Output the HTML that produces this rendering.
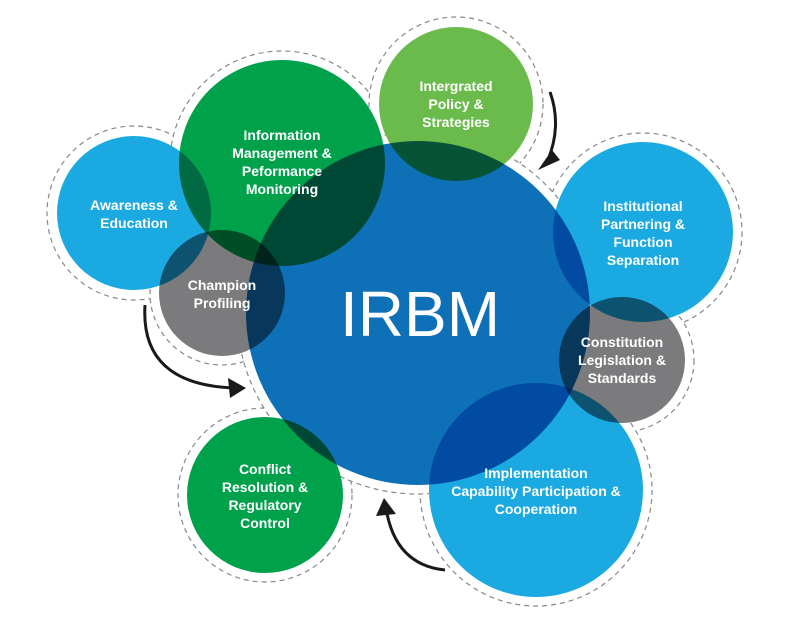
<!DOCTYPE html>
<html><head><meta charset="utf-8"><style>
html,body{margin:0;padding:0;background:#fff;}
svg{display:block;}
.t{font-family:"Liberation Sans",sans-serif;font-weight:bold;fill:#fff;font-size:14px;text-anchor:middle;}
.m{mix-blend-mode:multiply;}
</style></head><body>
<svg width="800" height="625" viewBox="0 0 800 625" xmlns="http://www.w3.org/2000/svg">
<g fill="#fff" stroke="#888" stroke-width="1.2" stroke-dasharray="5,4">
<circle cx="134" cy="213" r="87"/>
<circle cx="282" cy="163" r="112"/>
<circle cx="456" cy="104" r="87"/>
<circle cx="643" cy="232" r="99"/>
<circle cx="622" cy="360" r="72"/>
<circle cx="536" cy="490" r="116"/>
<circle cx="265" cy="495" r="87"/>
<circle cx="222" cy="293" r="72"/>
<circle cx="418" cy="313" r="181"/>
</g>
<g fill="#fff">
<circle cx="134" cy="213" r="77"/><circle cx="282" cy="163" r="103"/><circle cx="456" cy="104" r="77"/>
<circle cx="643" cy="232" r="90"/><circle cx="622" cy="360" r="63"/><circle cx="536" cy="490" r="107"/>
<circle cx="265" cy="495" r="78"/><circle cx="222" cy="293" r="63"/><circle cx="418" cy="313" r="172"/>
</g>
<g>
<circle class="m" cx="418" cy="313" r="172" fill="#0e71b8"/>
<circle class="m" cx="134" cy="213" r="77" fill="#1aa9e1"/>
<circle class="m" cx="282" cy="163" r="103" fill="#00a14b"/>
<circle class="m" cx="456" cy="104" r="77" fill="#6aba4c"/>
<circle class="m" cx="643" cy="232" r="90" fill="#1aa9e1"/>
<circle class="m" cx="622" cy="360" r="63" fill="#7b7b7e"/>
<circle class="m" cx="536" cy="490" r="107" fill="#1aa9e1"/>
<circle class="m" cx="265" cy="495" r="78" fill="#00a14b"/>
<circle class="m" cx="222" cy="293" r="63" fill="#7b7b7e"/>
</g>
<g fill="none" stroke="#1a1a1a" stroke-width="3">
<path d="M550 92 Q562 125 548 160"/>
<path d="M145 305 Q140 385 235 388"/>
<path d="M445 570 Q395 565 386 508"/>
</g>
<g fill="#1a1a1a">
<polygon points="538,170 552,150 560,160"/>
<polygon points="246,388 228,378 230,398"/>
<polygon points="384,498 376,516 396,514"/>
</g>
<text x="420" y="336" class="t" style="font-size:64px;font-weight:normal;">IRBM</text>
<text class="t"><tspan x="134" y="210">Awareness &amp;</tspan><tspan x="134" y="228">Education</tspan></text>
<text class="t"><tspan x="282" y="140">Information</tspan><tspan x="282" y="158">Management &amp;</tspan><tspan x="282" y="176">Peformance</tspan><tspan x="282" y="194">Monitoring</tspan></text>
<text class="t"><tspan x="456" y="91">Intergrated</tspan><tspan x="456" y="109">Policy &amp;</tspan><tspan x="456" y="127">Strategies</tspan></text>
<text class="t"><tspan x="643" y="211">Institutional</tspan><tspan x="643" y="229">Partnering &amp;</tspan><tspan x="643" y="247">Function</tspan><tspan x="643" y="265">Separation</tspan></text>
<text class="t"><tspan x="622" y="347">Constitution</tspan><tspan x="622" y="365">Legislation &amp;</tspan><tspan x="622" y="383">Standards</tspan></text>
<text class="t"><tspan x="536" y="478">Implementation</tspan><tspan x="536" y="496">Capability Participation &amp;</tspan><tspan x="536" y="514">Cooperation</tspan></text>
<text class="t"><tspan x="265" y="474">Conflict</tspan><tspan x="265" y="492">Resolution &amp;</tspan><tspan x="265" y="510">Regulatory</tspan><tspan x="265" y="528">Control</tspan></text>
<text class="t"><tspan x="222" y="290">Champion</tspan><tspan x="222" y="308">Profiling</tspan></text>
</svg>
</body></html>
